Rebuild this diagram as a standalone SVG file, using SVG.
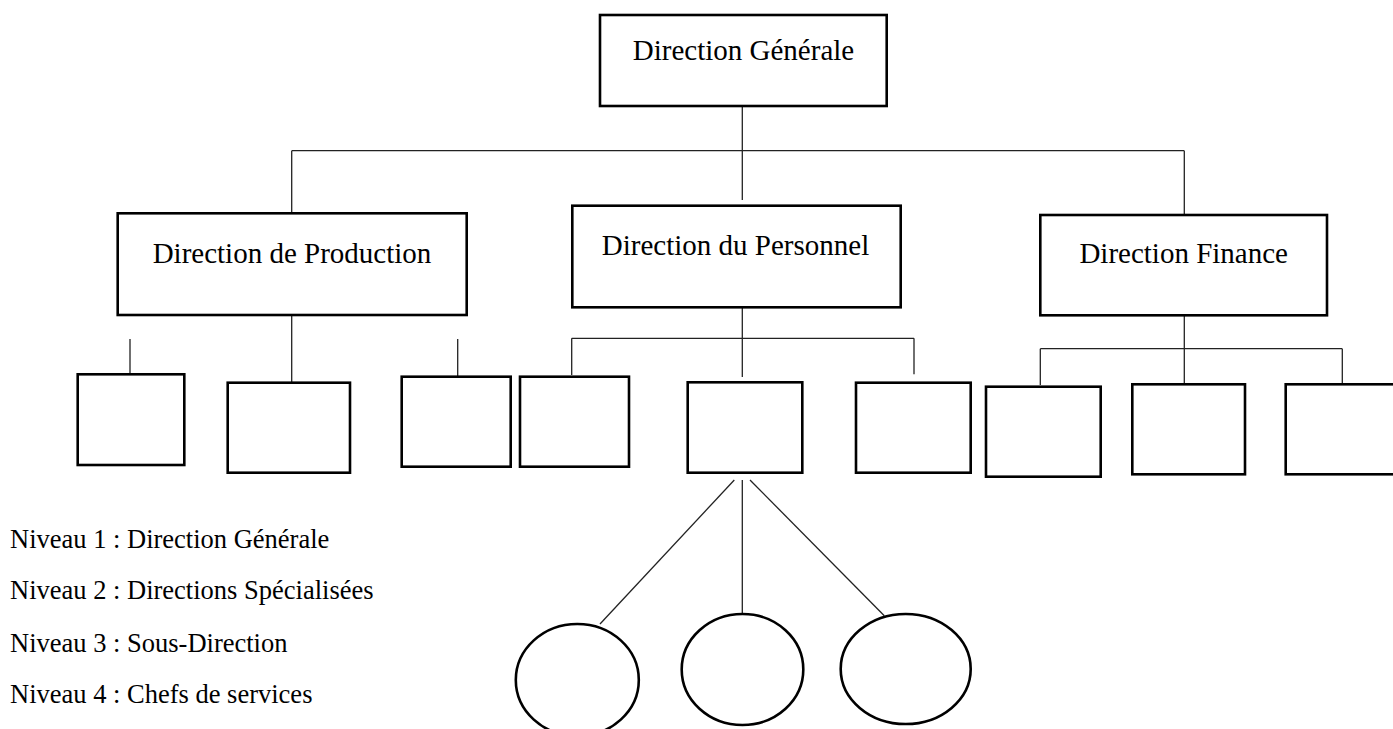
<svg xmlns="http://www.w3.org/2000/svg" width="1393" height="729" viewBox="0 0 1393 729">
<style>
.box{fill:#fff;stroke:#000;stroke-width:2.6}
.ell{fill:#fff;stroke:#000;stroke-width:2.6}
.con line{stroke:#222;stroke-width:1.3}
.lbl{font-family:"Liberation Serif","Times New Roman",serif;font-size:29px;fill:#000}
.leg{font-family:"Liberation Serif","Times New Roman",serif;font-size:26.5px;fill:#000}
</style>
<rect width="1393" height="729" fill="#fff"/>
<g id="connectors" class="con">
<line x1="742.3" y1="106" x2="742.3" y2="200"/>
<line x1="291.7" y1="150.7" x2="1184.3" y2="150.7"/>
<line x1="291.7" y1="150.7" x2="291.7" y2="212"/>
<line x1="1184.3" y1="150.7" x2="1184.3" y2="214"/>
<line x1="291.7" y1="315" x2="291.7" y2="384"/>
<line x1="130" y1="339" x2="130" y2="374"/>
<line x1="457.7" y1="339" x2="457.7" y2="376"/>
<line x1="742.3" y1="307" x2="742.3" y2="377"/>
<line x1="571.7" y1="338.3" x2="914" y2="338.3"/>
<line x1="571.7" y1="338.3" x2="571.7" y2="375"/>
<line x1="914" y1="338.3" x2="914" y2="374.3"/>
<line x1="1184.3" y1="315" x2="1184.3" y2="384"/>
<line x1="1040.3" y1="348.7" x2="1342.3" y2="348.7"/>
<line x1="1040.3" y1="348.7" x2="1040.3" y2="385"/>
<line x1="1342.3" y1="348.7" x2="1342.3" y2="384"/>
<line x1="734.3" y1="480" x2="600" y2="624"/>
<line x1="742.3" y1="480" x2="742.3" y2="614"/>
<line x1="750" y1="480" x2="884.3" y2="615.7"/>
</g>
<g id="n-dg"><rect class="box" x="600" y="15" width="286.7" height="91"/><text class="lbl" x="743.5" y="60" text-anchor="middle">Direction Générale</text></g>
<g id="n-prod"><rect class="box" x="117.7" y="213.3" width="349" height="101.7"/><text class="lbl" x="292" y="263.3" text-anchor="middle">Direction de Production</text></g>
<g id="n-pers"><rect class="box" x="572.3" y="205.7" width="328.4" height="101.6"/><text class="lbl" x="735.5" y="255" text-anchor="middle">Direction du Personnel</text></g>
<g id="n-fin"><rect class="box" x="1040.3" y="215" width="286.7" height="100.3"/><text class="lbl" x="1183.7" y="263.3" text-anchor="middle">Direction Finance</text></g>
<g id="n-b1"><rect class="box" x="77.7" y="374.3" width="106.6" height="90.7"/></g>
<g id="n-b2"><rect class="box" x="227.7" y="382.7" width="122.3" height="90"/></g>
<g id="n-b3"><rect class="box" x="401.7" y="376.7" width="109" height="90"/></g>
<g id="n-b4"><rect class="box" x="520" y="376.7" width="109" height="90"/></g>
<g id="n-b5"><rect class="box" x="687.7" y="382.3" width="114.6" height="90.4"/></g>
<g id="n-b6"><rect class="box" x="856" y="382.7" width="114.7" height="90"/></g>
<g id="n-b7"><rect class="box" x="986" y="386.7" width="114.7" height="90"/></g>
<g id="n-b8"><rect class="box" x="1132.3" y="384.3" width="112.7" height="90"/></g>
<g id="n-b9"><rect class="box" x="1285.7" y="384.3" width="120" height="90"/></g>
<g id="n-e1"><ellipse class="ell" cx="577.3" cy="680" rx="61.5" ry="56"/></g>
<g id="n-e2"><ellipse class="ell" cx="742.5" cy="669.5" rx="60.8" ry="55.5"/></g>
<g id="n-e3"><ellipse class="ell" cx="905.7" cy="669" rx="65" ry="55"/></g>
<g id="legend">
<text class="leg" x="10" y="548.3">Niveau 1 : Direction Générale</text>
<text class="leg" x="10" y="599.3">Niveau 2 : Directions Spécialisées</text>
<text class="leg" x="10" y="651.7">Niveau 3 : Sous-Direction</text>
<text class="leg" x="10" y="702.7">Niveau 4 : Chefs de services</text>
</g>
</svg>
